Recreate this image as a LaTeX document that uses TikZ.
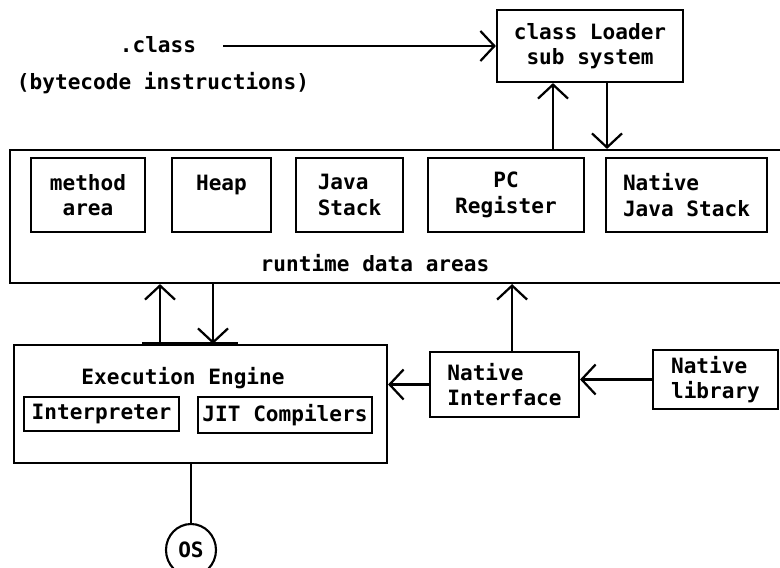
\documentclass[tikz,border=0pt]{standalone}
\usepackage{fontspec}
\setmonofont{DejaVu Sans Mono}
\usetikzlibrary{arrows.meta,calc,shapes.geometric}
\def\myGrid{1}

\begin{document}
\begin{tikzpicture}[>={Straight Barb[length=0.35cm,width=0.75cm,line width=1.6pt]}]
      \tikzstyle{every node} = [font=\ttfamily\bfseries\fontsize{15}{18}\selectfont]
      \tikzstyle{block} = [draw, rectangle, line width=1.5pt, inner sep=2pt]
      \tikzstyle{area} = [block, minimum height=1.85 cm]
      \tikzstyle{conn} = [line width=1.5pt]
      \useasboundingbox (0,0) rectangle (19.5,-14.2);
      \node (dotclass) at (3.95,-1.125) {.class};
      \node (bytecode) at (4.075,-2.075) {(bytecode instructions)};
      \coordinate (classIn) at (5.575,-1.15);
      \node[block, minimum width=4.65 cm, minimum height=1.8 cm, align=center] (loader) at (14.75,-1.15) {class Loader\\sub system};
      \node[block, minimum width=19.5 cm, minimum height=3.325 cm] (runtime) at (10,-5.4125) {};
      \node (runtimeText) at (9.375,-6.575) {runtime data areas};
      \node[area, minimum width=2.85 cm, align=center] (method) at (2.2,-4.875) {method\\area};
      \node[area, minimum width=2.475 cm, align=center, right of=method, node distance=3.3375 cm] (heap) {Heap\\\mbox{}};
      \node[area, minimum width=2.675 cm, align=left, right of=heap, node distance=3.2 cm] (jstack) {Java\\Stack};
      \node[area, minimum width=3.9 cm, align=center, right of=jstack, node distance=3.9125 cm] (pcreg) {PC\\Register};
      \node[area, minimum width=4.025 cm, align=left, right of=pcreg, node distance=4.5125 cm] (njstack) {Native\\Java Stack};
      \node[block, minimum width=9.325 cm, minimum height=2.95 cm] (exec) at (5.0125,-10.1) {};
      \node (execText) at (4.575,-9.45) {Execution Engine};
      \node[block, minimum width=3.875 cm, minimum height=0.85 cm] (interp) at (2.5375,-10.35) {Interpreter};
      \node[block, minimum width=4.35 cm, minimum height=0.9 cm] (jit) at (7.125,-10.375) {JIT Compilers};
      \node[block, minimum width=3.725 cm, minimum height=1.625 cm, align=left] (nif) at (12.6125,-9.6125) {Native\\Interface};
      \node[block, minimum width=3.125 cm, minimum height=1.475 cm, align=left] (nlib) at (17.8875,-9.4875) {Native\\library};
      \node[draw, ellipse, line width=1.5pt, minimum width=1.25 cm, minimum height=1.3 cm, inner sep=0pt] (os) at (4.775,-13.75) {OS};
      % Connections
      \draw[conn,->]
      (classIn) -- (loader.west);
      \draw[conn,->]
      ($(loader.south |- runtime.north)+(-0.925*\myGrid,0)$) -- ($(loader.south)+(-0.925*\myGrid,0)$);
      \draw[conn,->]
      ($(loader.south)+(0.425*\myGrid,0)$) -- ($(loader.south |- runtime.north)+(0.425*\myGrid,0)$);
      \draw[conn,->]
      ($(exec.north)+(-1.0125*\myGrid,0)$) -- ($(exec.north |- runtime.south)+(-1.0125*\myGrid,0)$);
      \draw[conn,->]
      ($(exec.north |- runtime.south)+(0.3125*\myGrid,0)$) -- ($(exec.north)+(0.3125*\myGrid,0)$);
      \draw[line width=3pt]
      ($(exec.north)+(-1.4625*\myGrid,0)$) -- ($(exec.north)+(0.9375*\myGrid,0)$);
      \draw[conn,->]
      ($(nif.north)+(0.19*\myGrid,0)$) -- ($(nif.north |- runtime.south)+(0.19*\myGrid,0)$);
      \draw[conn,->]
      (nif.west) -- (nif.west -| exec.east);
      \draw[conn,->]
      (nlib.west) -- (nlib.west -| nif.east);
      \draw[conn]
      (os.north) -- (os.north |- exec.south);
\end{tikzpicture}
\end{document}
